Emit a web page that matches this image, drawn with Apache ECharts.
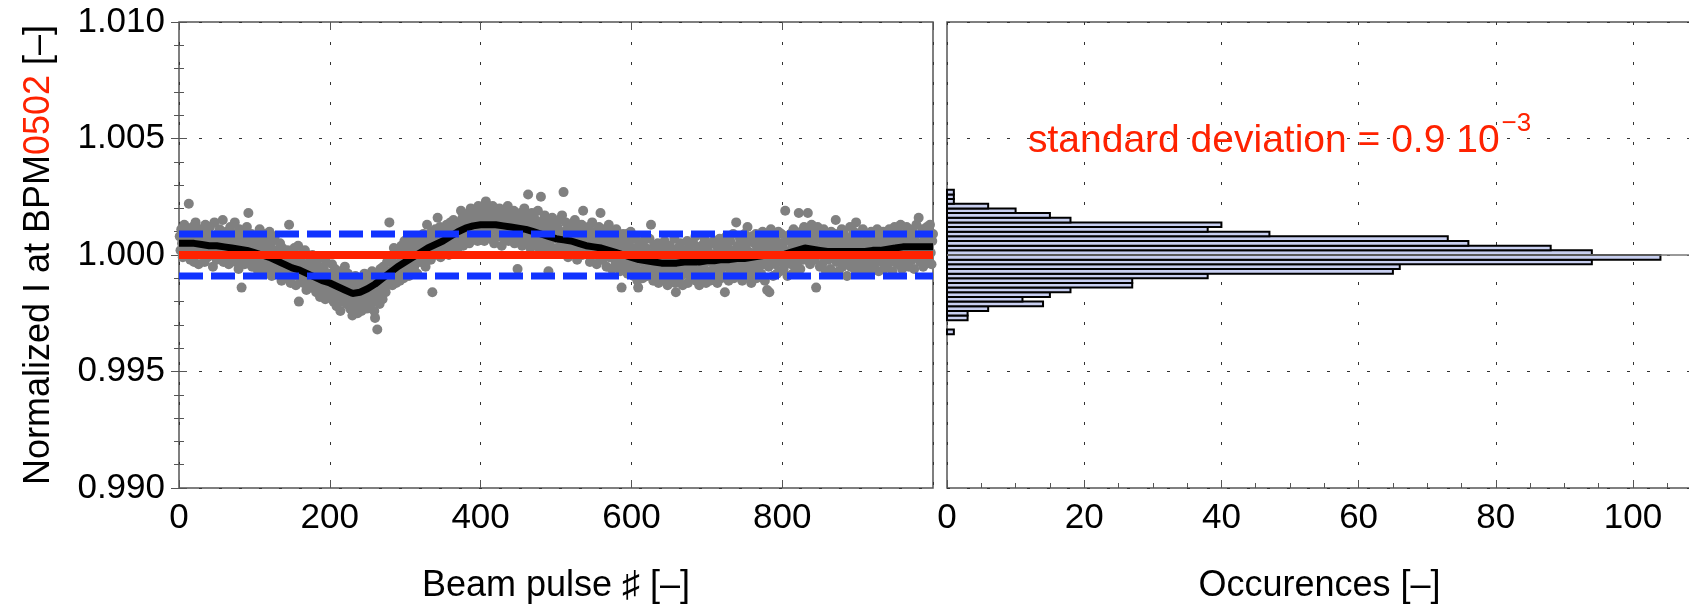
<!DOCTYPE html>
<html><head><meta charset="utf-8">
<script src="https://cdn.jsdelivr.net/npm/echarts@6/dist/echarts.min.js"></script>
<style>html,body{margin:0;padding:0;background:#fff}#c{width:1689px;height:605px}</style>
</head><body><div id="c"></div>
<script>
// ---- Data (deviations from 1 in units of 1e-4, one array per 100 beam pulses) ----
const dev0 = [8,2,11,5,-1,7,13,4,0,9, 3,10,22,6,-2,8,1,12,5,-3, 7,14,2,9,4,-4,11,6,0,8, 1,10,5,-3,13,3,7,-1,9,4, 12,0,6,2,-5,8,14,3,5,-2, 9,4,-1,11,6,1,7,15,-3,3, 6,-2,10,2,8,-4,4,12,0,5, -1,9,3,14,-3,6,1,7,-6,11, 4,-2,-14,8,1,10,-4,5,0,12, -3,18,6,-1,3,9,-5,2,7,-2];
const dev1 = [5,-4,8,0,-7,3,11,-2,6,-5, 2,-6,9,-1,4,-8,7,1,-3,10, -5,3,-9,6,0,-4,8,-2,-7,2, 1,-8,-2,5,-6,-11,3,-4,-1,-9, -7,0,-10,2,-5,13,-3,-12,1,-6, -2,-9,3,-6,-13,-1,-8,4,-20,-4, -10,-3,-7,1,-12,-5,2,-9,-15,-6, -4,-11,-1,-8,-14,-6,0,-10,-3,-13, -7,-16,-2,-11,-5,-13,-18,-8,-1,-12, -15,-6,-9,-19,-3,-12,-14,-8,-17,-10];
const dev2 = [-8,-17,-4,-14,-20,-10,-6,-15,-22,-11, -18,-9,-13,-24,-7,-16,-11,-20,-14,-5, -12,-21,-17,-8,-19,-14,-23,-10,-16,-26, -20,-13,-18,-9,-22,-15,-25,-12,-17,-21, -14,-24,-11,-19,-16,-8,-21,-13,-23,-17, -10,-19,-22,-12,-16,-7,-20,-14,-24,-27, -18,-9,-32,-15,-11,-21,-6,-17,-13,-19, -5,-14,-8,-16,-11,-3,-13,-7,14,-12, -10,-2,-13,-6,3,-9,-4,-12,1,-7, -8,0,-11,-3,4,-6,-1,-10,6,-4];
const dev3 = [2,-7,-1,5,-9,0,-4,7,-2,-6, 3,-5,6,-2,1,-8,8,-3,4,0, -3,6,2,9,-2,4,-5,7,13,0, 5,1,8,-2,10,-16,4,7,0,11, 3,9,16,2,6,12,-1,7,4,10, 8,1,11,5,13,3,9,0,7,14, 4,12,7,15,2,10,6,13,9,3, 14,6,11,19,8,16,4,12,9,17, 7,15,10,18,5,13,20,9,14,11, 16,8,19,11,14,6,21,12,17,10];
const dev4 = [9,17,12,20,6,15,23,11,18,8, 16,10,19,7,14,21,12,5,17,13, 11,18,8,15,20,9,14,4,17,12, 19,7,13,16,10,21,6,14,18,11, 8,15,12,19,5,17,10,13,-6,16, 14,7,18,11,4,16,9,20,12,6, 13,17,26,8,15,3,12,18,10,6, 16,9,4,14,11,19,7,13,2,25, 12,5,15,8,17,3,11,14,6,-7, 10,4,13,1,16,7,11,2,14,9];
const dev5 = [3,12,8,15,1,10,5,17,6,27, 9,2,14,6,11,-1,8,13,4,10, 7,12,1,9,15,4,10,-2,8,13, 2,9,6,13,0,19,7,3,11,5, 8,1,12,4,-3,9,6,14,2,7, 0,10,5,-4,8,3,12,-1,18,6, 4,-2,9,1,11,6,-5,7,3,13, -1,8,3,-6,10,5,0,7,-3,11, 4,-4,8,1,-7,6,-14,3,9,-2, 5,-5,2,9,-8,1,6,-3,10,-1];
const dev6 = [-6,3,-9,1,7,-4,0,-11,-14,4, 2,-7,5,-3,-10,6,-1,-8,3,-5, -9,1,-5,7,-2,13,-7,0,-11,4, -4,-10,2,-6,5,-12,-1,-8,3,-5, 0,-9,-3,6,-11,-6,2,-13,-1,-7, 4,-5,-10,1,-8,-2,7,-12,-16,-4, -6,3,-11,-1,5,-9,-3,-13,0,-7, 2,-8,-4,6,-12,-1,4,-6,-10,1, -5,5,-9,-2,8,-11,0,-7,3,-13, -1,-6,4,-10,2,-4,7,-8,-12,0];
const dev7 = [3,-7,1,-11,5,-3,-9,0,6,-5, -1,-8,4,-12,2,-4,7,-6,-10,1, -3,5,-9,-16,0,8,-5,3,-11,-1, 6,-7,2,-4,9,-10,1,-2,14,-6, 4,-8,0,7,-5,2,-11,5,-3,9, -6,3,-1,12,-9,6,-4,1,-12,8, 0,-7,5,-3,9,-10,2,-5,7,-1, 4,-8,1,10,-4,6,-11,3,-2,-15, 7,-5,-16,2,11,-3,5,-9,0,8, -4,6,-8,3,10,-1,-7,4,9,-3];
const dev8 = [5,-6,2,19,-3,8,-9,1,6,-2, 9,-4,3,-8,11,0,6,-5,2,7, -3,18,5,-6,10,1,8,-2,12,4, 7,-1,11,18,2,9,-4,6,13,0, 5,10,-2,8,-14,3,12,0,7,-5, 9,1,-4,6,11,-1,4,-7,8,2, -2,7,3,-6,10,0,5,-8,2,9, 15,-3,6,1,-7,8,-1,4,11,-5, 3,9,-4,6,0,-9,7,2,-2,12, -5,4,8,-1,10,-6,2,14,5,-3];
const dev9 = [6,-4,1,9,-7,3,11,-2,5,0, -6,8,2,-3,7,-8,4,10,-1,5, 1,-5,9,3,-2,11,6,-7,4,0, 7,-3,2,10,-6,5,-1,8,3,-4, 4,11,-2,6,0,-7,9,2,12,-3, 8,1,-4,10,5,-1,13,3,-6,7, 2,9,-3,6,12,0,5,-5,11,4, 7,-2,10,3,-6,8,1,13,5,-1, 16,4,-3,9,2,11,-5,6,0,8, 3,12,-2,7,10,13,1,-4,6,9];

// running average (black), every 10 pulses, units of 1e-4
const avgStep = 10;
const avgDev = [5,5,5,4.5,4,4,3.5,3,2.5,2, 1,0,-1,-2.5,-4,-5.5,-6.5,-8,-9.5,-11, -12,-13.5,-15,-16.5,-16,-14.5,-12.5,-10,-7.5,-5, -3,-1,1,3,4.5,6,8,10,11.5,12.5, 13,13,13,12.5,12,11.5,11,10,9,8, 7,6.5,6,5,4,3.5,3,2,1,0, -1,-2,-2.5,-3,-3.5,-3.5,-3.5,-3,-3,-3, -2.5,-2.5,-2,-2,-1.5,-1.5,-1,-0.5,0,0, 0,1,2,3,2.5,2,1.5,1.5,1.5,1.5, 1.5,1.5,2,2,2.5,3,3.5,3.5,3.5,3.5, 3.5];

const pulseRange = [0, 1000];
const meanVal = 1.0000;
const bandUpper = 1.0009;
const bandLower = 0.9991;

// histogram (bins of 0.0002, lower edges, counts)
const histBinWidth = 0.0002;
const histBinLow = [0.9966,0.9968,0.9970,0.9972,0.9974,0.9976,0.9978,0.9980,0.9982,0.9984,0.9986,0.9988,0.9990,0.9992,0.9994,0.9996,0.9998,1.0000,1.0002,1.0004,1.0006,1.0008,1.0010,1.0012,1.0014,1.0016,1.0018,1.0020,1.0022,1.0024,1.0026];
const histCounts = [1,0,0,3,3,6,14,11,15,18,27,27,38,65,66,94,104,94,88,76,73,47,38,40,18,15,10,6,1,1,1];
const histBase = 0.9966;

const yTicks = [0.990, 0.995, 1.000, 1.005, 1.010];
const annMain = 'standard deviation = 0.9 10';
const annSup = '\u22123';

// ---- Build ----
const FONT = '"Liberation Sans", Arial, Helvetica, "DejaVu Sans", sans-serif';
const devBlocks = [dev0,dev1,dev2,dev3,dev4,dev5,dev6,dev7,dev8,dev9];
const scatterData = [];
devBlocks.forEach((blk,b)=>blk.forEach((d,i)=>scatterData.push([b*100+i+1, 1 + d*1e-4])));
const avgData = avgDev.map((d,i)=>[i*avgStep, 1 + d*1e-4]);
const histData = histBinLow.map((lo,i)=>[lo, lo+histBinWidth, histCounts[i]]);

const gridDash = {type:[3,17], color:'#333', width:1};
const tickCol = '#555';
const yMin = yTicks[0], yMax = yTicks[yTicks.length-1], yInt = 0.005;

function hLine(value, color, width, type, z) {
  return {type:'line', xAxisIndex:0, yAxisIndex:0, z:z, silent:true, showSymbol:false, symbol:'none',
    data:[[pulseRange[0], value],[pulseRange[1], value]],
    lineStyle:{color:color, width:width, type:type, cap:'butt'}};
}

const chart = echarts.init(document.getElementById('c'), null, {renderer:'canvas'});

const ctx = document.createElement('canvas').getContext('2d');
ctx.font = '39px ' + FONT;
const mainW = ctx.measureText(annMain).width;

const option = {
  animation:false,
  backgroundColor:'#fff',
  grid:[
    {left:179, top:22, width:754, height:466, show:true, borderColor:'#555', borderWidth:1.5, backgroundColor:'transparent', containLabel:false, outerBoundsMode:'none'},
    {left:947, top:22, width:745, height:466, show:true, borderColor:'#555', borderWidth:1.5, backgroundColor:'transparent', containLabel:false, outerBoundsMode:'none'}
  ],
  xAxis:[
    {type:'value', gridIndex:0, position:'bottom', min:pulseRange[0], max:pulseRange[1], interval:200,
     axisLine:{show:false}, axisTick:{show:true, inside:true, length:8, lineStyle:{color:tickCol}},
     axisLabel:{show:true, showMaxLabel:false, color:'#000', fontSize:35, fontFamily:FONT, margin:13},
     splitLine:{show:true, lineStyle:gridDash},
     name:'Beam pulse \u266F [\u2013]', nameLocation:'middle', nameGap:80,
     nameTextStyle:{color:'#000', fontSize:36, fontFamily:FONT}},
    {type:'value', gridIndex:0, position:'top', min:pulseRange[0], max:pulseRange[1], interval:200,
     axisLine:{show:false}, axisTick:{show:true, inside:true, length:8, lineStyle:{color:tickCol}},
     axisLabel:{show:false}, splitLine:{show:false}},
    {type:'value', gridIndex:1, position:'bottom', min:0, max:108.6, interval:20,
     axisLine:{show:false}, axisTick:{show:true, inside:true, length:8, lineStyle:{color:tickCol}},
     minorTick:{show:true, splitNumber:4, length:5, lineStyle:{color:tickCol}},
     axisLabel:{show:true, showMaxLabel:false, color:'#000', fontSize:35, fontFamily:FONT, margin:13},
     splitLine:{show:true, lineStyle:gridDash},
     name:'Occurences [\u2013]', nameLocation:'middle', nameGap:80,
     nameTextStyle:{color:'#000', fontSize:36, fontFamily:FONT}}
  ],
  yAxis:[
    {type:'value', gridIndex:0, position:'left', min:yMin, max:yMax, interval:yInt,
     axisLine:{show:false}, axisTick:{show:true, inside:true, length:8, lineStyle:{color:tickCol}},
     minorTick:{show:true, splitNumber:5, length:5, lineStyle:{color:tickCol}},
     axisLabel:{show:true, color:'#000', fontSize:35, fontFamily:FONT, margin:14, formatter:v=>v.toFixed(3)},
     splitLine:{show:true, lineStyle:gridDash},
     name:'{n|Normalized I at BPM}{r|0502}{n| [\u2013]}', nameLocation:'middle', nameGap:122,
     nameTextStyle:{rich:{n:{color:'#000', fontSize:36, fontFamily:FONT}, r:{color:'#ff2200', fontSize:36, fontFamily:FONT}}}},
    {type:'value', gridIndex:0, position:'right', min:yMin, max:yMax, interval:yInt,
     axisLine:{show:false}, axisTick:{show:true, inside:true, length:8, lineStyle:{color:tickCol}},
     minorTick:{show:true, splitNumber:5, length:5, lineStyle:{color:tickCol}},
     axisLabel:{show:false}, splitLine:{show:false}},
    {type:'value', gridIndex:1, position:'left', min:yMin, max:yMax, interval:yInt,
     axisLine:{show:false}, axisTick:{show:false}, axisLabel:{show:false},
     splitLine:{show:true, lineStyle:gridDash}}
  ],
  series:[
    {type:'scatter', xAxisIndex:0, yAxisIndex:0, data:scatterData, symbolSize:10,
     itemStyle:{color:'#808080', opacity:1}, z:2, silent:true},
    {type:'line', xAxisIndex:0, yAxisIndex:0, data:avgData, showSymbol:false, symbol:'none',
     lineStyle:{color:'#000', width:7}, z:3, silent:true},
    hLine(bandUpper, '#1133ff', 7, [24,8], 6),
    hLine(bandLower, '#1133ff', 7, [24,8], 6),
    hLine(meanVal, '#ff2200', 8, 'solid', 7),
    {type:'custom', xAxisIndex:2, yAxisIndex:2, data:histData, z:3, silent:true,
     encode:{x:2, y:[0,1]},
     renderItem:function(params, api){
       const lo = api.value(0), hi = api.value(1), c = api.value(2);
       if (!c) return null;
       const p0 = api.coord([0, hi]);
       const p1 = api.coord([c, lo]);
       return {type:'rect', shape:{x:p0[0], y:p0[1], width:p1[0]-p0[0], height:p1[1]-p0[1]},
               style:{fill:'#c8cff0', stroke:'#000', lineWidth:2}};
     },
     markLine:{silent:true, symbol:['none','none'], z:4, label:{show:false},
       lineStyle:{color:'#777', width:1.5, type:'solid'},
       data:[{yAxis:histBase}]}}
  ],
  graphic:[
    {type:'text', x:1028, y:141, z:10, silent:true,
     style:{text:annMain, font:'39px ' + FONT, fill:'#ff2200', textAlign:'left', textVerticalAlign:'middle'}},
    {type:'text', x:1028 + mainW + 2, y:124, z:10, silent:true,
     style:{text:annSup, font:'26px ' + FONT, fill:'#ff2200', textAlign:'left', textVerticalAlign:'middle'}}
  ]
};
chart.setOption(option);
</script>
</body></html>
